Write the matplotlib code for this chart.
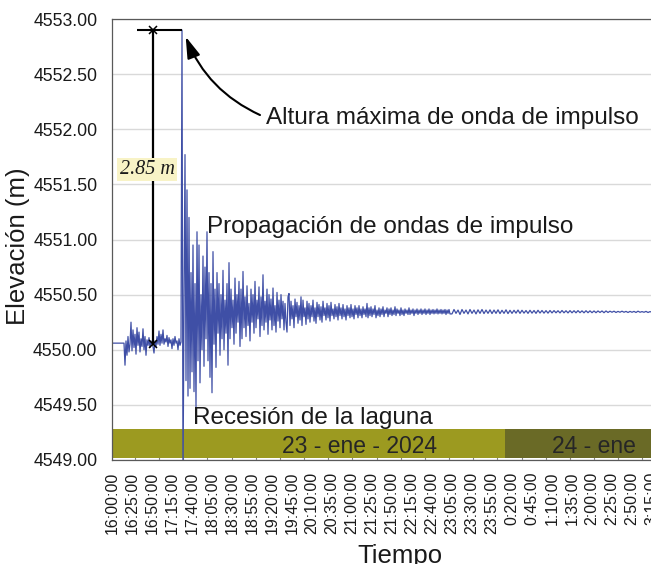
import numpy as np
import matplotlib
matplotlib.use("Agg")
import matplotlib.pyplot as plt
from matplotlib.patches import Rectangle
from matplotlib.ticker import FixedLocator

plt.rcParams['font.family'] = ['Liberation Sans', 'DejaVu Sans']

# ---------------- data ----------------
tick_labels = ["16:00:00", "16:25:00", "16:50:00", "17:15:00", "17:40:00", "18:05:00",
               "18:30:00", "18:55:00", "19:20:00", "19:45:00", "20:10:00", "20:35:00",
               "21:00:00", "21:25:00", "21:50:00", "22:15:00", "22:40:00", "23:05:00",
               "23:30:00", "23:55:00", "0:20:00", "0:45:00", "1:10:00", "1:35:00",
               "2:00:00", "2:25:00", "2:50:00", "3:15:00"]
tick_minutes = [25 * i for i in range(len(tick_labels))]  # minutes after 16:00

step_fine = 1.25    # sampling interval (min) of the detailed record
step_coarse = 2.5   # sampling interval (min) of the calm tail
tail_start = 425.0  # minutes after 16:00

# before the impulse wave (16:00 -> ~17:26)
elev_pre = [4550.06, 4550.06, 4550.06, 4550.06, 4550.06, 4550.06, 4550.06, 4550.06, 4550.06, 4550.06,
            4550.06, 4550.06, 4550.06, 4549.86, 4550.08, 4549.95, 4550.12, 4549.98, 4550.05, 4550.25,
            4549.99, 4550.18, 4550.02, 4550.14, 4549.96, 4550.20, 4550.04, 4550.16, 4549.98, 4550.10,
            4550.03, 4550.19, 4550.00, 4550.12, 4549.95, 4550.09, 4550.04, 4550.11, 4550.02, 4550.08,
            4550.05, 4550.03, 4549.97, 4550.08, 4550.03, 4550.12, 4550.05, 4550.17, 4550.04, 4550.14,
            4550.06, 4550.18, 4550.05, 4550.10, 4550.07, 4550.13, 4550.03, 4550.11, 4550.06, 4550.09,
            4550.01, 4550.10, 4550.04, 4550.12, 4550.06, 4550.08, 4550.00, 4550.10, 4550.04, 4550.07]
# impulse wave and strong oscillations
elev_event = [4552.90, 4548.80, 4550.40, 4551.77, 4549.72, 4551.45, 4549.58, 4551.20, 4549.65, 4550.70,
              4549.80, 4550.95, 4549.62, 4550.60, 4549.48, 4551.07, 4549.90, 4550.95, 4549.70, 4550.50,
              4550.00, 4550.85, 4549.85, 4550.75, 4550.10, 4551.07, 4549.90, 4550.70, 4549.75, 4550.60,
              4549.61, 4550.89, 4550.05, 4550.55, 4549.84, 4550.70, 4550.15, 4550.60, 4549.95, 4550.50,
              4550.10, 4550.72, 4550.00, 4550.45, 4550.15, 4550.60, 4549.86, 4550.79, 4550.10, 4550.55,
              4550.20, 4550.45, 4550.05, 4550.65, 4550.15, 4550.50, 4550.25, 4550.62, 4550.03, 4550.55,
              4550.10, 4550.71, 4550.20, 4550.48, 4550.12, 4550.58, 4550.22, 4550.42, 4550.08, 4550.55,
              4550.25, 4550.50, 4550.15, 4550.62, 4550.20, 4550.45, 4550.28, 4550.57, 4550.12, 4550.48,
              4550.22, 4550.68, 4550.18, 4550.44, 4550.25, 4550.55, 4550.14, 4550.50, 4550.27, 4550.46,
              4550.18, 4550.56, 4550.22, 4550.40, 4550.16, 4550.52, 4550.26, 4550.45, 4550.20, 4550.50]
# decaying oscillations
elev_decay1 = [4550.28, 4550.44, 4550.18, 4550.42, 4550.25, 4550.16, 4550.48, 4550.51, 4550.22, 4550.44,
               4550.28, 4550.40, 4550.20, 4550.46, 4550.30, 4550.43, 4550.24, 4550.40, 4550.27, 4550.48,
               4550.22, 4550.45, 4550.30, 4550.38, 4550.23, 4550.44, 4550.28, 4550.42, 4550.25, 4550.40,
               4550.30, 4550.45, 4550.26, 4550.38, 4550.24, 4550.43, 4550.30, 4550.41, 4550.27, 4550.39,
               4550.25, 4550.44, 4550.31, 4550.38, 4550.27, 4550.42, 4550.29, 4550.40, 4550.26, 4550.43,
               4550.31, 4550.37, 4550.28, 4550.41, 4550.30, 4550.39, 4550.27, 4550.42, 4550.31, 4550.38,
               4550.28, 4550.41, 4550.30, 4550.37, 4550.27, 4550.40, 4550.31, 4550.38, 4550.29, 4550.41,
               4550.30, 4550.37, 4550.28, 4550.40, 4550.32, 4550.38, 4550.29, 4550.40, 4550.31, 4550.37,
               4550.29, 4550.39, 4550.32, 4550.37, 4550.30, 4550.42, 4550.29, 4550.38, 4550.31]
elev_decay2 = [4550.39, 4550.30, 4550.37, 4550.32, 4550.40, 4550.29, 4550.36, 4550.31, 4550.38, 4550.30,
               4550.37, 4550.32, 4550.39, 4550.30, 4550.36, 4550.33, 4550.38, 4550.30, 4550.37, 4550.32,
               4550.38, 4550.31, 4550.36, 4550.32, 4550.39, 4550.31, 4550.37, 4550.33, 4550.36, 4550.31,
               4550.38, 4550.32, 4550.36, 4550.31, 4550.37, 4550.33, 4550.36, 4550.32, 4550.38, 4550.32,
               4550.36, 4550.33, 4550.37, 4550.31, 4550.36, 4550.33, 4550.37, 4550.32, 4550.36, 4550.33,
               4550.37, 4550.32, 4550.36, 4550.33, 4550.37, 4550.32, 4550.36, 4550.33, 4550.37, 4550.32,
               4550.36, 4550.33, 4550.365, 4550.325, 4550.36, 4550.33, 4550.37, 4550.325, 4550.36, 4550.33,
               4550.365, 4550.325, 4550.36, 4550.33, 4550.365, 4550.32, 4550.36, 4550.33, 4550.365, 4550.325]
# calm tail (coarser sampling)
elev_tail = [4550.325, 4550.365, 4550.33, 4550.36, 4550.32, 4550.365, 4550.33, 4550.36, 4550.325, 4550.365,
             4550.33, 4550.36, 4550.325, 4550.362, 4550.33, 4550.365, 4550.328, 4550.36, 4550.33, 4550.362,
             4550.328, 4550.36, 4550.33, 4550.362, 4550.328, 4550.358, 4550.33, 4550.362, 4550.328, 4550.358,
             4550.33, 4550.358, 4550.332, 4550.36, 4550.33, 4550.358, 4550.332, 4550.356, 4550.33, 4550.358,
             4550.332, 4550.356, 4550.33, 4550.358, 4550.333, 4550.356, 4550.332, 4550.355, 4550.332, 4550.356,
             4550.334, 4550.355, 4550.335, 4550.354, 4550.334, 4550.356, 4550.335, 4550.354, 4550.334, 4550.355,
             4550.335, 4550.354, 4550.335, 4550.355, 4550.336, 4550.353, 4550.335, 4550.354, 4550.336, 4550.353,
             4550.336, 4550.352, 4550.336, 4550.352, 4550.338, 4550.352, 4550.336, 4550.352, 4550.338, 4550.35,
             4550.34, 4550.35, 4550.338, 4550.348, 4550.34, 4550.35, 4550.34, 4550.348, 4550.338, 4550.348,
             4550.34, 4550.348, 4550.338, 4550.35, 4550.34, 4550.346, 4550.34, 4550.348, 4550.338, 4550.346,
             4550.34, 4550.346, 4550.338, 4550.346, 4550.34, 4550.345, 4550.338, 4550.346, 4550.34, 4550.344,
             4550.338, 4550.346, 4550.34, 4550.344, 4550.338, 4550.345, 4550.34, 4550.344, 4550.338, 4550.344,
             4550.34]

elev_fine = elev_pre + elev_event + elev_decay1 + elev_decay2
elevation = np.array(elev_fine + elev_tail)
minutes = np.concatenate([np.arange(len(elev_fine)) * step_fine,
                          tail_start + np.arange(len(elev_tail)) * step_coarse])

day_names = ["23 - ene - 2024", "24 - ene"]
day_start = [0, 491]
day_end = [491, 760]
day_colors = ["#9c9a20", "#6a6a26"]

base_level = 4550.05
max_level = 4552.90
wave_height_label = "2.85 m"

# ---------------- figure ----------------
W, H = 651, 564
fig = plt.figure(figsize=(W / 100, H / 100), dpi=100)
ax = fig.add_axes([112 / W, 104 / H, 560 / W, 441 / H])
ax.set_xlim(0, 700)
ax.set_ylim(4549.0, 4553.0)

yt = np.arange(4549.0, 4553.01, 0.5)
ax.set_yticks(yt)
ax.set_yticklabels([f"{v:.2f}" for v in yt])
ax.yaxis.grid(True, color="#d9d9d9", lw=1.0)
ax.set_axisbelow(True)
for s in ["left", "top", "bottom"]:
    ax.spines[s].set_color("#595959")
    ax.spines[s].set_linewidth(0.9)
ax.spines["right"].set_visible(False)

ax.set_xticks(tick_minutes)
ax.set_xticklabels(tick_labels, rotation=90)
ax.xaxis.set_minor_locator(FixedLocator([28.75 + 30.2 * k for k in range(23)]))
ax.tick_params(axis="x", which="major", length=0, pad=8.4, labelsize=11.5, colors="#1a1a1a")
ax.tick_params(axis="x", which="minor", direction="in", length=3, width=0.8, color="#808080")
ax.tick_params(axis="y", length=0, pad=10.5, labelsize=12.7, colors="#1a1a1a")

# day bands
for name, t0, t1, c in zip(day_names, day_start, day_end, day_colors):
    ax.add_patch(Rectangle((t0, 4549.02), t1 - t0, 0.26, facecolor=c, edgecolor="none", zorder=1.5))
ax.text(308.75, 4549.068, day_names[0], ha="center", va="baseline", fontsize=16.5, color="#262626", zorder=3)
ax.text(601.9, 4549.068, day_names[1], ha="center", va="baseline", fontsize=16.5, color="#262626", zorder=3)

# series
ax.plot(minutes, elevation, color="#3f4fa6", lw=0.9, zorder=2)

# dimension lines
spike_t = minutes[int(np.argmax(elevation))]
ax.plot([31.25, spike_t], [max_level, max_level], color="black", lw=1.5, zorder=4, solid_capstyle="butt")
ax.plot([51.25, 51.25], [base_level, max_level], color="black", lw=1.6, zorder=4)
ax.plot([51.25, 51.25], [base_level, max_level], ls="none", marker="x", ms=6, mew=1.1, color="black", zorder=4)
ax.text(43.75, 4551.635, wave_height_label, ha="center", va="center", fontsize=14.5,
        family=["Liberation Serif", "DejaVu Serif"], style="italic", color="#1a1a1a", zorder=5,
        bbox=dict(boxstyle="square,pad=0.12", facecolor="#f8f3c6", edgecolor="none"))

# annotations
ax.annotate("", xy=(92.1, 4552.84), xytext=(185.0, 4552.129),
            arrowprops=dict(arrowstyle="-|>,head_length=0.65,head_width=0.2", connectionstyle="arc3,rad=-0.2",
                            color="black", lw=1.5, mutation_scale=20, shrinkA=0, shrinkB=0), zorder=5)
ax.text(192.5, 4552.048, "Altura máxima de onda de impulso", ha="left", va="baseline", fontsize=17.5,
        color="#1a1a1a", zorder=5)
ax.text(118.75, 4551.06, "Propagación de ondas de impulso", ha="left", va="baseline", fontsize=17.5,
        color="#1a1a1a", zorder=5)
ax.text(101.25, 4549.33, "Recesión de la laguna", ha="left", va="baseline", fontsize=17.5,
        color="#1a1a1a", zorder=5)

# axis titles
fig.text(18 / W, 1 - 246 / H, "Elevación (m)", rotation=90, ha="center", va="center", fontsize=18.5, color="#1a1a1a")
fig.text(400 / W, 0.6 / H, "Tiempo", ha="center", va="baseline", fontsize=18.5, color="#1a1a1a")

fig.savefig("out.png", dpi=100)
